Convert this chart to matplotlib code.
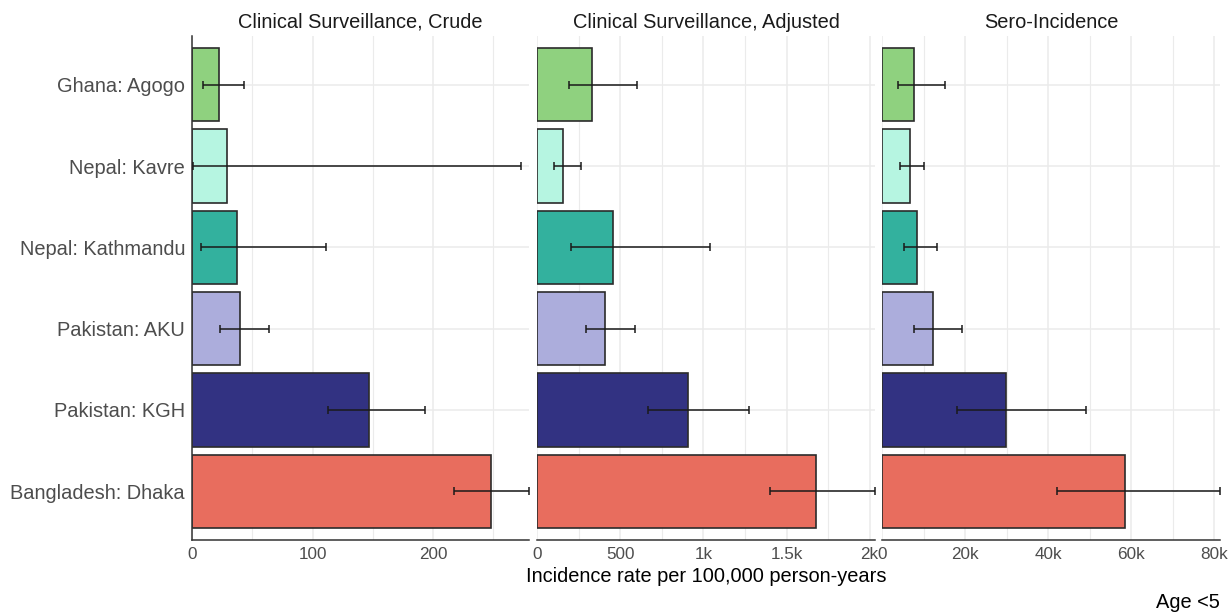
import numpy as np
import matplotlib
matplotlib.use("Agg")
import matplotlib.pyplot as plt
from matplotlib.ticker import FuncFormatter, MultipleLocator

plt.rcParams['font.family'] = ['Liberation Sans', 'DejaVu Sans']

# sites, top to bottom
sites = ["Ghana: Agogo", "Nepal: Kavre", "Nepal: Kathmandu",
         "Pakistan: AKU", "Pakistan: KGH", "Bangladesh: Dhaka"]
colors = ["#8fd17f", "#b6f5e1", "#33b19e", "#acaddc", "#323282", "#e86d5e"]

# Clinical surveillance, crude
crude = [22.2, 29.3, 37.1, 40.1, 147.1, 247.9]
crude_lo = [9.4, 0.5, 7.7, 23.0, 112.9, 217.7]
crude_hi = [43.4, 272.8, 111.2, 64.2, 193.1, 279.9]

# Clinical surveillance, adjusted
adj = [331, 157, 454, 410, 908, 1679]
adj_lo = [189, 101, 201, 291, 665, 1400]
adj_hi = [599, 263, 1042, 590, 1275, 2030]

# Sero-incidence
sero = [7570, 6680, 8430, 12290, 29810, 58550]
sero_lo = [3780, 4340, 5300, 7710, 18000, 42100]
sero_hi = [15110, 9980, 13110, 19200, 49010, 81300]

panels = [
    ("Clinical Surveillance, Crude", crude, crude_lo, crude_hi, 100),
    ("Clinical Surveillance, Adjusted", adj, adj_lo, adj_hi, 500),
    ("Sero-Incidence", sero, sero_lo, sero_hi, 20000),
]

GRID = "#ebebeb"
TXT = "#4d4d4d"


def k_fmt(v, pos):
    if v == 0:
        return "0"
    if abs(v) >= 1000:
        return f"{v / 1000:g}k"
    return f"{v:g}"


fig = plt.figure(figsize=(12.3, 6.13), dpi=100)

W, H = 1230, 613
lefts = [192, 537.3, 882.3]
width = 337.3
top, bottom = 36, 540

y = np.arange(len(sites))

for i, (title, vals, lo, hi, step) in enumerate(panels):
    ax = fig.add_axes([lefts[i] / W, 1 - bottom / H, width / W, (bottom - top) / H])
    vals = np.array(vals, float)
    lo = np.array(lo, float)
    hi = np.array(hi, float)

    ax.barh(y, vals, height=0.9, color=colors, edgecolor="#2b2b2b",
            linewidth=1.2, zorder=2)
    ax.errorbar(vals, y, xerr=[vals - lo, hi - vals], fmt="none",
                ecolor="#1a1a1a", elinewidth=1.1, capsize=2.6,
                capthick=1.1, zorder=3)

    ax.set_xlim(0, hi.max())
    ax.set_ylim(len(sites) - 0.4, -0.6)

    ax.xaxis.set_major_locator(MultipleLocator(step))
    ax.xaxis.set_minor_locator(MultipleLocator(step / 2))
    ax.xaxis.set_major_formatter(FuncFormatter(k_fmt))
    ax.grid(True, which="major", color=GRID, linewidth=1.1, zorder=0)
    ax.grid(True, which="minor", axis="x", color=GRID, linewidth=0.8, zorder=0)
    ax.set_axisbelow(True)

    for s in ["top", "right"]:
        ax.spines[s].set_visible(False)
    ax.spines["bottom"].set_color("#333333")
    ax.spines["bottom"].set_linewidth(1.1)
    if i == 0:
        ax.spines["left"].set_color("#333333")
        ax.spines["left"].set_linewidth(1.1)
        ax.set_yticks(y)
        ax.set_yticklabels(sites, fontsize=14.4, color=TXT)
    else:
        ax.spines["left"].set_visible(False)
        ax.set_yticks(y)
        ax.set_yticklabels([])

    ax.tick_params(axis="both", which="both", length=0)
    ax.tick_params(axis="x", labelsize=12.3, labelcolor=TXT, pad=5)
    ax.tick_params(axis="y", pad=5)
    ax.set_title(title, fontsize=14.4, color="#1a1a1a", pad=6)

fig.text(706 / W, 1 - 577 / H, "Incidence rate per 100,000 person-years",
         ha="center", va="center", fontsize=14.4, color="#000000")
fig.text(1220 / W, 1 - 603 / H, "Age <5", ha="right", va="center",
         fontsize=14.4, color="#000000")

fig.savefig("out.png", dpi=100)
